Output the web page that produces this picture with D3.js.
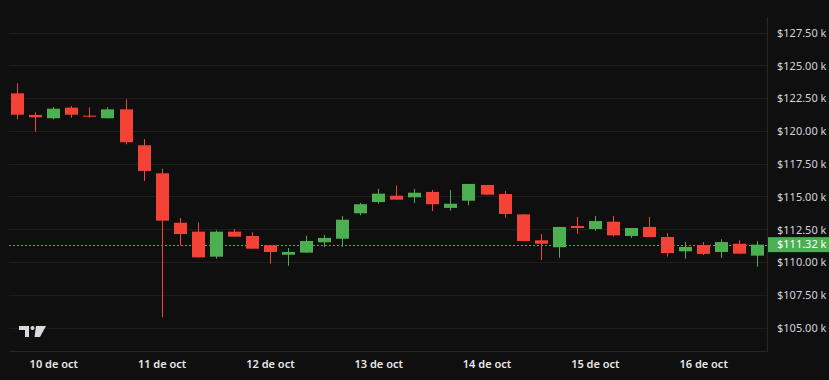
<!DOCTYPE html>
<html><head><meta charset="utf-8">
<script src="https://cdn.jsdelivr.net/npm/d3@7"></script>
<style>html,body{margin:0;padding:0;background:#0f0f0f;}svg{display:block;}</style>
</head><body>
<svg id="chart" width="829" height="380"></svg>
<script>
// 4-hour candles, 9 Oct 16:00 -> 16 Oct 20:00
const opens  = [122.86,121.21,120.96,121.77,121.16,120.96,121.64,118.90,116.76,112.99,112.31,110.40,112.31,111.98,111.27,110.55,110.71,111.50,111.77,113.71,114.57,115.05,114.93,115.34,114.12,114.67,115.87,115.18,113.63,111.65,111.12,112.74,112.51,113.07,111.98,112.67,111.90,110.81,111.29,110.76,111.39,110.48];
const highs  = [123.63,121.42,121.82,121.90,121.77,121.80,122.41,119.38,117.11,113.35,113.02,112.41,112.51,112.26,111.27,111.06,112.00,112.06,113.50,114.50,115.56,115.82,115.56,115.49,115.49,115.95,115.87,115.41,113.63,112.13,112.67,113.43,113.50,113.50,112.59,113.43,112.19,111.50,111.52,111.73,111.65,111.60];
const lows   = [120.88,119.94,120.88,121.00,121.00,120.96,118.97,116.17,105.78,111.27,110.35,110.25,111.93,111.01,109.87,109.71,110.71,111.16,111.16,113.56,114.44,114.75,114.50,113.89,113.91,114.32,115.13,113.37,111.60,110.15,110.32,112.15,112.38,111.93,111.83,111.90,110.40,110.25,110.53,110.32,110.63,109.64];
const closes = [121.23,121.03,121.69,121.23,121.08,121.64,119.13,116.94,113.15,112.13,110.35,112.31,111.93,111.01,110.76,110.76,111.60,111.83,113.22,114.40,115.21,114.75,115.28,114.40,114.44,115.95,115.13,113.66,111.60,111.39,112.67,112.59,113.12,112.03,112.59,111.90,110.68,111.14,110.61,111.52,110.63,111.32];
const priceTicks = [105,107.5,110,112.5,115,117.5,120,122.5,125,127.5];
const dayTicks = [new Date(2025,9,10),new Date(2025,9,11),new Date(2025,9,12),new Date(2025,9,13),new Date(2025,9,14),new Date(2025,9,15),new Date(2025,9,16)];
const lastPrice = 111.32;
const start = new Date(2025,9,9,16);
const dates = opens.map((d,i)=>new Date(start.getTime()+i*4*3600*1000));

const svg = d3.select("#chart");
const W=829,H=380;
const plotL=9, plotR=767.5, plotT=17, plotB=351;
const x = d3.scaleTime().domain([dates[0],dates[dates.length-1]]).range([17.2,757.3]);
const y = d3.scaleLinear().domain([105,127.5]).range([327.5,32.5]);
const up="#4caf50", down="#f44336";
const font="'Noto Sans', 'Open Sans', sans-serif";

svg.append("rect").attr("width",W).attr("height",H).attr("fill","#0f0f0f");

// grid
svg.append("g").selectAll("line").data(priceTicks).join("line")
  .attr("x1",plotL).attr("x2",plotR).attr("y1",d=>Math.round(y(d))+0.5).attr("y2",d=>Math.round(y(d))+0.5)
  .attr("stroke","#1e1e1e").attr("stroke-width",1);
// borders
svg.append("line").attr("x1",plotL).attr("x2",plotR).attr("y1",plotB+0.5).attr("y2",plotB+0.5).attr("stroke","#262626");
svg.append("line").attr("x1",plotR).attr("x2",plotR).attr("y1",plotT).attr("y2",plotB+1).attr("stroke","#262626");

// y axis labels
const yAxis = d3.axisRight(y).tickValues(priceTicks).tickSize(0).tickPadding(0)
  .tickFormat(d=>"$"+d3.format(".2f")(d)+" k");
const ya = svg.append("g").attr("transform",`translate(777,0)`).call(yAxis);
ya.select(".domain").remove();
ya.selectAll("text").attr("fill","#d1d4dc").attr("font-family",font).attr("font-size","11px").attr("dy","0.35em").attr("x",0);

// x axis labels
const xAxis = d3.axisBottom(x).tickValues(dayTicks).tickSize(0).tickPadding(0)
  .tickFormat(d=>d.getDate()+" de oct");
const xa = svg.append("g").attr("transform",`translate(0,364)`).call(xAxis);
xa.select(".domain").remove();
xa.selectAll("text").attr("fill","#e8e8ea").attr("font-family",font).attr("font-size","11px").attr("font-weight","600").attr("dy","0.35em");

// price line
svg.append("line").attr("x1",plotL).attr("x2",plotR).attr("y1",Math.round(y(lastPrice))+0.5).attr("y2",Math.round(y(lastPrice))+0.5)
  .attr("stroke",up).attr("stroke-width",1).attr("stroke-dasharray","2,2");

// candles
const idx = d3.range(opens.length);
const bw = 13;
const g = svg.append("g");
g.selectAll("line.wick").data(idx).join("line").attr("class","wick")
  .attr("x1",i=>Math.round(x(dates[i]))+0.5).attr("x2",i=>Math.round(x(dates[i]))+0.5)
  .attr("y1",i=>y(highs[i])).attr("y2",i=>y(lows[i]))
  .attr("stroke",i=>closes[i]>=opens[i]?up:down).attr("stroke-width",1);
g.selectAll("rect.body").data(idx).join("rect").attr("class","body")
  .attr("x",i=>Math.round(x(dates[i]))+0.5-bw/2)
  .attr("y",i=>y(Math.max(opens[i],closes[i])))
  .attr("width",bw)
  .attr("height",i=>Math.max(1,Math.abs(y(opens[i])-y(closes[i]))))
  .attr("fill",i=>closes[i]>=opens[i]?up:down);

// last price label
const ly = y(lastPrice);
svg.append("rect").attr("x",768).attr("y",ly-7.5).attr("width",61).attr("height",15).attr("fill",up);
svg.append("text").attr("x",777).attr("y",ly).attr("dy","0.35em").attr("fill","#ffffff")
  .attr("font-family",font).attr("font-size","11px").text("$"+d3.format(".2f")(lastPrice)+" k");

// TV logo
const logo = svg.append("g").attr("transform","translate(19,326)").attr("fill","#d8dae0");
logo.append("path").attr("d","M0,0 H10 V11 H6 V4 H0 Z");
logo.append("circle").attr("cx",13.5).attr("cy",2).attr("r",2);
logo.append("path").attr("d","M17,0 H27 L21,11 H15.5 Z");
</script>
</body></html>
